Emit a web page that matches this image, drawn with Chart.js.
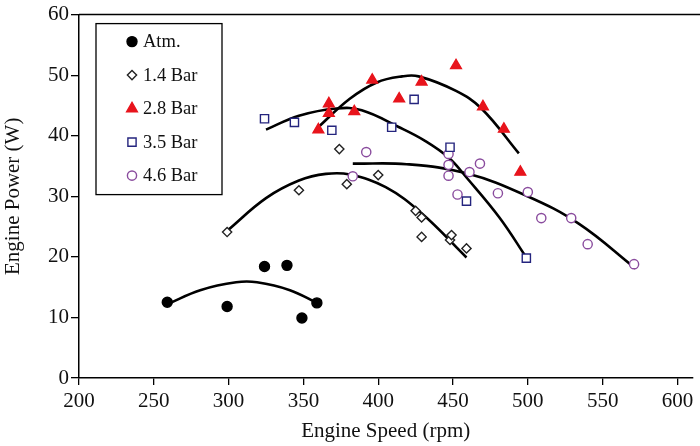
<!DOCTYPE html>
<html>
<head>
<meta charset="utf-8">
<script src="https://cdn.jsdelivr.net/npm/chart.js@4"></script>
<style>
  html, body { margin: 0; padding: 0; background: #fff; }
  #wrap { width: 700px; height: 446px; }
</style>
</head>
<body>
<div id="wrap"><canvas id="powerChart" width="700" height="446"></canvas></div>
<script>
// axis ticks
const speedTicks = [200, 250, 300, 350, 400, 450, 500, 550, 600];
const powerTicks = [0, 10, 20, 30, 40, 50, 60];

// measured points
const atmSpeed = [259, 299, 324, 339, 349, 359];
const atmPower = [12.5, 11.8, 18.4, 18.6, 9.9, 12.4];

const bar14Speed = [299, 347, 374, 379, 400, 425, 429, 429, 448, 449, 459];
const bar14Power = [24.1, 31.0, 37.8, 32.0, 33.5, 27.6, 26.5, 23.3, 22.8, 23.6, 21.4];

const bar28Speed = [360, 367, 367, 384, 396, 414, 429, 452, 470, 484, 495];
const bar28Power = [41.0, 45.3, 43.7, 44.0, 49.2, 46.1, 48.9, 51.6, 44.8, 41.1, 34.0];

const bar35Speed = [324, 344, 369, 409, 424, 448, 459, 499];
const bar35Power = [42.8, 42.2, 40.9, 41.4, 46.0, 38.1, 29.2, 19.8];

const bar46Speed = [383, 392, 447, 447, 447, 453, 461, 468, 480, 500, 509, 529, 540, 571];
const bar46Power = [33.3, 37.3, 37.0, 35.2, 33.4, 30.3, 34.0, 35.4, 30.5, 30.7, 26.4, 26.4, 22.1, 18.8];

// fitted curves
const atmFitSpeed = [260, 281, 305, 319, 341, 359];
const atmFitPower = [12.3, 14.5, 15.8, 15.8, 14.5, 12.4];

const bar14FitSpeed = [299, 325, 347, 365, 381, 405, 429, 459];
const bar14FitPower = [24.3, 29.7, 32.6, 33.7, 33.6, 31.5, 27.2, 19.9];

const bar28FitSpeed = [359, 381, 399, 416, 427, 452, 469, 494];
const bar28FitPower = [41.2, 46.1, 48.8, 49.8, 49.8, 47.4, 44.5, 37.1];

const bar35FitSpeed = [325, 347, 372, 389, 414, 431, 447, 459, 481, 499];
const bar35FitPower = [41.0, 43.3, 44.5, 44.2, 41.4, 39.2, 36.4, 33.1, 26.5, 19.9];

const bar46FitSpeed = [383, 419, 459, 499, 534, 572];
const bar46FitPower = [35.4, 35.3, 33.8, 30.1, 25.5, 18.1];

const serif = "'Liberation Serif', 'DejaVu Serif', serif";

function pts(xs, ys) {
    return xs.map((x, i) => ({ x: x, y: ys[i] }));
}

function markers(label, xs, ys, style, radius, color, fill) {
    return {
        label: label,
        data: pts(xs, ys),
        pointStyle: style,
        pointRadius: radius,
        pointHoverRadius: radius,
        pointBorderWidth: 1.4,
        pointBorderColor: color,
        pointBackgroundColor: fill,
        showLine: false,
        isMarker: true,
        order: 0
    };
}

function curve(xs, ys) {
    return {
        label: '',
        data: pts(xs, ys),
        showLine: true,
        borderColor: '#000',
        borderWidth: 2.6,
        pointRadius: 0,
        tension: 0.4,
        fill: false,
        order: 1
    };
}

const legendBox = {
    id: 'legendBox',
    afterDraw(chart) {
        const ctx = chart.ctx;
        const a = chart.chartArea;
        // top frame line
        ctx.save();
        ctx.strokeStyle = '#000';
        ctx.lineWidth = 1.5;
        ctx.beginPath();
        ctx.moveTo(a.left, a.top);
        ctx.lineTo(chart.width, a.top);
        ctx.stroke();

        const left = a.left + 17, top = a.top + 9;
        ctx.lineWidth = 1.3;
        ctx.strokeRect(left, top, 126, 171);

        const items = chart.data.datasets.filter(d => d.isMarker);
        ctx.font = '18.5px ' + serif;
        ctx.textBaseline = 'middle';
        ctx.textAlign = 'left';
        items.forEach((d, i) => {
            const y = top + 18 + i * 33.5;
            ctx.strokeStyle = d.pointBorderColor;
            ctx.fillStyle = d.pointBackgroundColor;
            ctx.lineWidth = d.pointBorderWidth;
            Chart.helpers.drawPoint(ctx, {
                pointStyle: d.pointStyle,
                radius: d.pointRadius,
                borderWidth: d.pointBorderWidth,
                rotation: 0
            }, left + 36, y);
            ctx.fillStyle = '#111';
            ctx.fillText(d.label, left + 47, y + 1);
        });
        ctx.restore();
    }
};

const ctx = document.getElementById('powerChart').getContext('2d');
new Chart(ctx, {
    type: 'scatter',
    data: {
        datasets: [
            markers('Atm.', atmSpeed, atmPower, 'circle', 5, '#000', '#000'),
            markers('1.4 Bar', bar14Speed, bar14Power, 'rectRot', 4.6, '#222', '#fff'),
            markers('2.8 Bar', bar28Speed, bar28Power, 'triangle', 6.2, '#e8141c', '#e8141c'),
            markers('3.5 Bar', bar35Speed, bar35Power, 'rect', 5.8, '#24247e', '#fff'),
            markers('4.6 Bar', bar46Speed, bar46Power, 'circle', 4.6, '#8a4c9e', '#fff'),
            curve(atmFitSpeed, atmFitPower),
            curve(bar14FitSpeed, bar14FitPower),
            curve(bar28FitSpeed, bar28FitPower),
            curve(bar35FitSpeed, bar35FitPower),
            curve(bar46FitSpeed, bar46FitPower)
        ]
    },
    options: {
        responsive: false,
        animation: false,
        layout: { padding: { top: 14, right: 0, left: 0, bottom: 0 } },
        plugins: {
            legend: { display: false },
            tooltip: { enabled: false }
        },
        scales: {
            x: {
                type: 'linear',
                min: 200,
                max: 610,
                afterBuildTicks: s => { s.ticks = speedTicks.map(v => ({ value: v })); },
                afterFit: s => { s.height = 68; },
                border: { display: true, color: '#000', width: 1.5 },
                grid: { drawOnChartArea: false, drawTicks: true, tickLength: 7, color: '#000', lineWidth: 1.3 },
                ticks: { color: '#111', padding: 4, maxRotation: 0, font: { family: serif, size: 21 } },
                title: { display: true, text: 'Engine Speed (rpm)', color: '#111', padding: { top: 0, bottom: 2 }, font: { family: serif, size: 21 } }
            },
            y: {
                type: 'linear',
                min: 0,
                max: 60,
                afterBuildTicks: s => { s.ticks = powerTicks.map(v => ({ value: v })); },
                afterFit: s => { s.width = 79; },
                border: { display: true, color: '#000', width: 1.5 },
                grid: { drawOnChartArea: false, drawTicks: true, tickLength: 8, color: '#000', lineWidth: 1.3 },
                ticks: { color: '#111', padding: 2, font: { family: serif, size: 21 } },
                title: { display: true, text: 'Engine Power (W)', color: '#111', padding: { top: 1, bottom: 0 }, font: { family: serif, size: 21 } }
            }
        }
    },
    plugins: [legendBox]
});
</script>
</body>
</html>
